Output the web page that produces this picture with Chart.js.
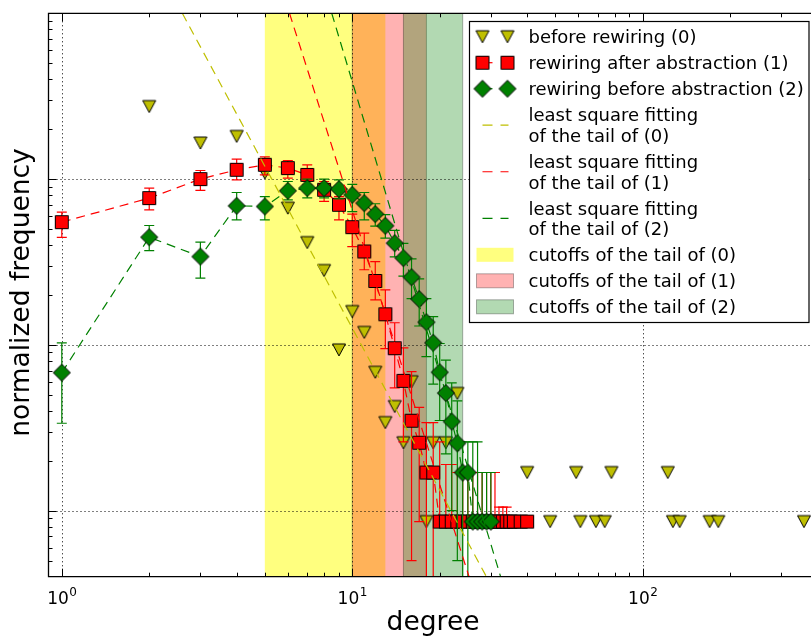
<!DOCTYPE html>
<html>
<head>
<meta charset="utf-8">
<script src="https://cdn.jsdelivr.net/npm/chart.js@4.4.1/dist/chart.umd.min.js"></script>
<style>
  html, body { margin: 0; padding: 0; background: #fff; overflow: hidden; }
  #wrap { width: 811px; height: 636px; }
</style>
</head>
<body>
<div id="wrap"><canvas id="chart" width="811" height="636"></canvas></div>
<script>
// degree distribution, log-log
const deg0  = [2, 3, 4, 5, 6, 7, 8, 9, 10, 11, 12, 13, 14, 15, 16, 18, 19, 21, 23,
               40, 48, 59, 61, 69, 74, 78, 122, 127, 134, 170, 182, 359];
const freq0 = [0.274, 0.165, 0.181, 0.109, 0.0668, 0.0414, 0.0281, 0.00933, 0.0159, 0.0119,
               0.00684, 0.0034, 0.00425, 0.00257, 0.006, 0.00086, 0.00257, 0.00257, 0.0051,
               0.0017, 0.00086, 0.0017, 0.00086, 0.00086, 0.00086, 0.0017, 0.0017, 0.00086,
               0.00086, 0.00086, 0.00086, 0.00086];

const deg1  = [1, 2, 3, 4, 5, 6, 7, 8, 9, 10, 11, 12, 13, 14, 15, 16, 17, 18, 19,
               20, 21, 22, 23, 24, 25, 26, 27, 28, 29, 30, 31, 32, 33, 34, 35, 36, 38, 40];
const freq1 = [0.055, 0.0768, 0.1, 0.1138, 0.122, 0.1165, 0.106, 0.0862, 0.070, 0.0513,
               0.0366, 0.0243, 0.0153, 0.00955, 0.00607, 0.00349, 0.00257, 0.0017, 0.0017,
               0.00086, 0.00086, 0.00086, 0.00086, 0.00086, 0.00086, 0.00086, 0.00086, 0.00086,
               0.00086, 0.00086, 0.00086, 0.00086, 0.00086, 0.00086, 0.00086, 0.00086, 0.00086, 0.00086];
const lo1   = [0.0445, 0.0653, 0.0854, 0.099, 0.106, 0.1014, 0.0924, 0.0733, 0.0568, 0.0392,
               0.0284, 0.0187, 0.0095, 0.0055, 0.0026, 0.0005, 0.00086, 0.0003, 0.0003,
               null, null, null, null, null, null, null, null, null, null, null, null, null,
               null, null, null, null, null, null];
const hi1   = [0.0633, 0.0882, 0.1127, 0.132, 0.136, 0.1295, 0.122, 0.0967, 0.0785, 0.0615,
               0.0472, 0.0318, 0.0215, 0.0136, 0.0096, 0.0069, 0.0042, 0.0034, 0.0034,
               0.0026, 0.0019, 0.0019, 0.0017, 0.0017, 0.0017, 0.0017, 0.0017, 0.0017, 0.0017,
               0.0017, 0.0017, 0.00105, 0.00105, 0.00105, null, null, null, null];

const deg2  = [1, 2, 3, 4, 5, 6, 7, 8, 9, 10, 11, 12, 13, 14, 15, 16, 17, 18, 19, 20,
               21, 22, 23, 24, 25, 26, 27, 28, 29, 30];
const freq2 = [0.0068, 0.0446, 0.0341, 0.069, 0.0684, 0.085, 0.0883, 0.0883, 0.087, 0.0804,
               0.0716, 0.0615, 0.0523, 0.0411, 0.0334, 0.0256, 0.0189, 0.0137, 0.0103, 0.00684,
               0.00512, 0.00345, 0.00255, 0.0017, 0.0017, 0.00086, 0.00086, 0.00086, 0.00086, 0.00086];
const lo2   = [0.00337, 0.037, 0.0253, 0.0568, 0.0568, 0.075, 0.077, 0.077, 0.076, 0.0637,
               0.0568, 0.052, 0.044, 0.034, 0.026, 0.019, 0.013, 0.0085, 0.0058, 0.0035,
               0.0022, 0.0010, 0.0005, 0.0003, 0.0003, null, null, null, null, null];
const hi2   = [0.0103, 0.0525, 0.0417, 0.083, 0.0785, 0.0967, 0.1, 0.1, 0.099, 0.093,
               0.083, 0.071, 0.061, 0.049, 0.041, 0.033, 0.025, 0.019, 0.0148, 0.0102,
               0.0081, 0.0059, 0.0046, 0.0026, 0.0026, 0.0026, 0.0026, 0.0017, 0.0017, 0.0017];

// least square fits of the tails (straight lines in log-log)
const fit0X = [2.6, 30],  fit0Y = [1.0, 3.57e-4];
const fit1X = [6.08, 26], fit1Y = [1.0, 3.4e-4];
const fit2X = [8.5, 33],  fit2Y = [1.0, 3.6e-4];

// tail cutoffs
const cut0 = [5, 13];
const cut1 = [10, 18];
const cut2 = [15, 24];

const xMajor = [1, 10, 100];
const xTickExp = ['0', '1', '2'];
const yMajor = [1e-3, 1e-2, 1e-1];

const legendLabels = [
  ['before rewiring (0)'],
  ['rewiring after abstraction (1)'],
  ['rewiring before abstraction (2)'],
  ['least square fitting', 'of the tail of (0)'],
  ['least square fitting', 'of the tail of (1)'],
  ['least square fitting', 'of the tail of (2)'],
  ['cutoffs of the tail of (0)'],
  ['cutoffs of the tail of (1)'],
  ['cutoffs of the tail of (2)'],
];

const C_Y = '#bfbf00', C_R = '#ff0000', C_G = '#008000';
const FONT = '"DejaVu Sans", sans-serif';
const DASH = [9, 6];

const spans = [
  { range: cut0, fill: 'rgba(255,255,0,0.5)', edge: null },
  { range: cut1, fill: 'rgba(255,0,0,0.3)',   edge: 'rgba(0,0,0,0.3)' },
  { range: cut2, fill: 'rgba(0,128,0,0.3)',   edge: 'rgba(0,0,0,0.3)' },
];

// marker sprites
function sprite(w, h, draw) {
  const c = document.createElement('canvas');
  c.width = w; c.height = h;
  const g = c.getContext('2d');
  g.lineWidth = 1;
  g.strokeStyle = '#000';
  g.lineJoin = 'miter';
  g.beginPath();
  draw(g);
  g.closePath();
  g.fill();
  g.stroke();
  return c;
}
const triDown = sprite(16, 16, g => {
  g.fillStyle = C_Y;
  g.moveTo(1.5, 2); g.lineTo(14.5, 2); g.lineTo(8, 14);
});
const square = sprite(16, 16, g => {
  g.fillStyle = C_R;
  g.rect(1.5, 1.5, 13, 13);
});
const diamond = sprite(20, 20, g => {
  g.fillStyle = C_G;
  g.moveTo(10, 1.5); g.lineTo(18.5, 10); g.lineTo(10, 18.5); g.lineTo(1.5, 10);
});

const pts = (xs, ys) => xs.map((x, i) => ({ x, y: ys[i] }));

const datasets = [
  { label: 'fit0', data: pts(fit0X, fit0Y), borderColor: C_Y, borderWidth: 1.2,
    borderDash: DASH, pointRadius: 0, order: 0 },
  { label: 'fit1', data: pts(fit1X, fit1Y), borderColor: C_R, borderWidth: 1.2,
    borderDash: DASH, pointRadius: 0, order: 1 },
  { label: 'fit2', data: pts(fit2X, fit2Y), borderColor: C_G, borderWidth: 1.2,
    borderDash: DASH, pointRadius: 0, order: 2 },
  { label: 'rewiring before abstraction (2)', data: pts(deg2, freq2), showLine: true,
    borderColor: C_G, borderWidth: 1.2, borderDash: DASH, pointStyle: diamond,
    pointRadius: 8, errLo: lo2, errHi: hi2, barColor: C_G, order: 3 },
  { label: 'rewiring after abstraction (1)', data: pts(deg1, freq1), showLine: true,
    borderColor: C_R, borderWidth: 1.2, borderDash: DASH, pointStyle: square,
    pointRadius: 7, errLo: lo1, errHi: hi1, barColor: C_R, order: 4 },
  { label: 'before rewiring (0)', data: pts(deg0, freq0), showLine: false,
    borderColor: C_Y, pointStyle: triDown, pointRadius: 7, order: 5 },
];

const decorations = {
  id: 'decorations',
  beforeDatasetsDraw(chart) {
    const { ctx, chartArea: a, scales: { x, y } } = chart;
    ctx.save();
    ctx.beginPath();
    ctx.rect(a.left, a.top, a.right - a.left, a.bottom - a.top);
    ctx.clip();
    spans.forEach(s => {
      const x0 = x.getPixelForValue(s.range[0]);
      const x1 = x.getPixelForValue(s.range[1]);
      ctx.fillStyle = s.fill;
      ctx.fillRect(x0, a.top, x1 - x0, a.bottom - a.top);
      if (s.edge) {
        ctx.strokeStyle = s.edge;
        ctx.lineWidth = 1;
        ctx.strokeRect(x0, a.top, x1 - x0, a.bottom - a.top);
      }
    });
    // dotted grid
    ctx.strokeStyle = '#000';
    ctx.lineWidth = 1;
    ctx.setLineDash([1, 3]);
    xMajor.forEach(v => {
      const px = Math.round(x.getPixelForValue(v)) + 0.5;
      ctx.beginPath(); ctx.moveTo(px, a.top); ctx.lineTo(px, a.bottom); ctx.stroke();
    });
    yMajor.forEach(v => {
      const py = Math.round(y.getPixelForValue(v)) + 0.5;
      ctx.beginPath(); ctx.moveTo(a.left, py); ctx.lineTo(a.right, py); ctx.stroke();
    });
    ctx.restore();
  },
  beforeDatasetDraw(chart, args) {
    const ds = chart.data.datasets[args.index];
    if (!ds.errHi) return;
    const { ctx, chartArea: a, scales: { x, y } } = chart;
    ctx.save();
    ctx.beginPath();
    ctx.rect(a.left, a.top, a.right - a.left, a.bottom - a.top);
    ctx.clip();
    ctx.strokeStyle = ds.barColor;
    ctx.lineWidth = 1.2;
    ds.data.forEach((p, i) => {
      const hi = ds.errHi[i];
      if (hi == null) return;
      const lo = ds.errLo[i];
      const px = x.getPixelForValue(p.x);
      const pyHi = y.getPixelForValue(hi);
      const pyLo = lo == null ? y.getPixelForValue(p.y) : y.getPixelForValue(Math.max(lo, 1e-4));
      ctx.beginPath();
      ctx.moveTo(px, pyHi); ctx.lineTo(px, pyLo);
      ctx.moveTo(px - 5, pyHi); ctx.lineTo(px + 5, pyHi);
      if (lo != null) { ctx.moveTo(px - 5, pyLo); ctx.lineTo(px + 5, pyLo); }
      ctx.stroke();
    });
    ctx.restore();
  },
  afterDatasetsDraw(chart) {
    const { ctx, chartArea: a, scales: { x, y } } = chart;
    ctx.save();

    // ticks (inside, all sides shown)
    ctx.strokeStyle = '#000';
    ctx.lineWidth = 1;
    const tickX = (v, len) => {
      const px = Math.round(x.getPixelForValue(v)) + 0.5;
      ctx.beginPath();
      ctx.moveTo(px, a.bottom); ctx.lineTo(px, a.bottom - len);
      ctx.moveTo(px, a.top); ctx.lineTo(px, a.top + len);
      ctx.stroke();
    };
    const tickY = (v, len) => {
      const py = Math.round(y.getPixelForValue(v)) + 0.5;
      ctx.beginPath();
      ctx.moveTo(a.left, py); ctx.lineTo(a.left + len, py);
      ctx.stroke();
    };
    for (let d = 1; d <= 100; d *= 10) {
      for (let m = 2; m <= 9; m++) if (d * m < x.max) tickX(d * m, 4);
    }
    xMajor.forEach(v => tickX(v, 8));
    for (let d = 1e-4; d < 1; d *= 10) {
      for (let m = 2; m <= 9; m++) if (d * m > y.min) tickY(d * m, 4);
    }
    yMajor.forEach(v => tickY(v, 8));

    // axis frame (right side lies outside the view)
    ctx.lineWidth = 1.3;
    ctx.beginPath();
    ctx.moveTo(a.right + 2, a.top); ctx.lineTo(a.left, a.top);
    ctx.lineTo(a.left, a.bottom); ctx.lineTo(a.right + 2, a.bottom);
    ctx.stroke();

    // x tick labels 10^k
    ctx.fillStyle = '#000';
    ctx.textBaseline = 'alphabetic';
    xMajor.forEach((v, i) => {
      const px = x.getPixelForValue(v);
      ctx.font = '17px ' + FONT;
      const wb = ctx.measureText('10').width;
      ctx.font = '12px ' + FONT;
      const we = ctx.measureText(xTickExp[i]).width;
      const left = px - (wb + we) / 2;
      ctx.font = '17px ' + FONT;
      ctx.fillText('10', left, 604);
      ctx.font = '12px ' + FONT;
      ctx.fillText(xTickExp[i], left + wb + 0.5, 596);
    });

    // axis titles
    ctx.font = '26.5px ' + FONT;
    ctx.textAlign = 'center';
    ctx.fillText('degree', (a.left + x.getPixelForValue(400)) / 2, 630);
    ctx.save();
    ctx.translate(29, 292.5);
    ctx.rotate(-Math.PI / 2);
    ctx.fillText('normalized frequency', 0, 0);
    ctx.restore();

    drawLegend(ctx);
    ctx.restore();
  },
};

function drawLegend(ctx) {
  const box = { l: 469.5, t: 21.5, r: 809, b: 322.5 };
  ctx.fillStyle = '#fff';
  ctx.fillRect(box.l, box.t, box.r - box.l, box.b - box.t);
  ctx.strokeStyle = '#000';
  ctx.lineWidth = 1.2;
  ctx.setLineDash([]);
  ctx.strokeRect(box.l, box.t, box.r - box.l, box.b - box.t);

  const m1 = 482.5, m2 = 507.5, tx = 528.5;
  const lineH = 20.7, gap = 26;
  let yc = 36.7;
  ctx.font = '18px ' + FONT;
  ctx.textAlign = 'left';
  ctx.textBaseline = 'alphabetic';
  legendLabels.forEach((lines, i) => {
    const mid = yc + (lines.length - 1) * lineH / 2;
    ctx.save();
    if (i === 0) {
      ctx.drawImage(triDown, m1 - 8, mid - 8); ctx.drawImage(triDown, m2 - 8, mid - 8);
    } else if (i === 1 || i === 2) {
      const col = i === 1 ? C_R : C_G;
      const img = i === 1 ? square : diamond;
      ctx.strokeStyle = col; ctx.lineWidth = 1.2; ctx.setLineDash([10, 15]);
      ctx.beginPath(); ctx.moveTo(m1, mid); ctx.lineTo(m2, mid); ctx.stroke();
      ctx.drawImage(img, m1 - img.width / 2, mid - img.height / 2);
      ctx.drawImage(img, m2 - img.width / 2, mid - img.height / 2);
    } else if (i <= 5) {
      ctx.strokeStyle = [C_Y, C_R, C_G][i - 3];
      ctx.lineWidth = 1.2; ctx.setLineDash([10, 8]);
      ctx.beginPath(); ctx.moveTo(m1, mid); ctx.lineTo(m2 + 1, mid); ctx.stroke();
    } else {
      const s = spans[i - 6];
      ctx.fillStyle = '#fff';
      ctx.fillRect(476.5, mid - 7, 37, 14);
      ctx.fillStyle = s.fill;
      ctx.fillRect(476.5, mid - 7, 37, 14);
      if (s.edge) {
        ctx.strokeStyle = s.edge; ctx.lineWidth = 1;
        ctx.strokeRect(476.5, mid - 7, 37, 14);
      }
    }
    ctx.restore();
    ctx.fillStyle = '#000';
    lines.forEach((t, k) => ctx.fillText(t, tx, yc + k * lineH + 6.5));
    yc += (lines.length - 1) * lineH + gap;
  });
}

new Chart(document.getElementById('chart'), {
  type: 'line',
  data: { datasets },
  options: {
    responsive: false,
    animation: false,
    devicePixelRatio: 1,
    layout: { autoPadding: false, padding: { left: 48.5, top: 13.3, right: 0, bottom: 59.3 } },
    plugins: { legend: { display: false }, tooltip: { enabled: false } },
    elements: { line: { tension: 0, fill: false } },
    scales: {
      x: { type: 'logarithmic', min: 0.9, max: 379.6, display: false, ticks: { display: false } },
      y: { type: 'logarithmic', min: 4e-4, max: 1, display: false, ticks: { display: false } },
    },
  },
  plugins: [decorations],
});
</script>
</body>
</html>
